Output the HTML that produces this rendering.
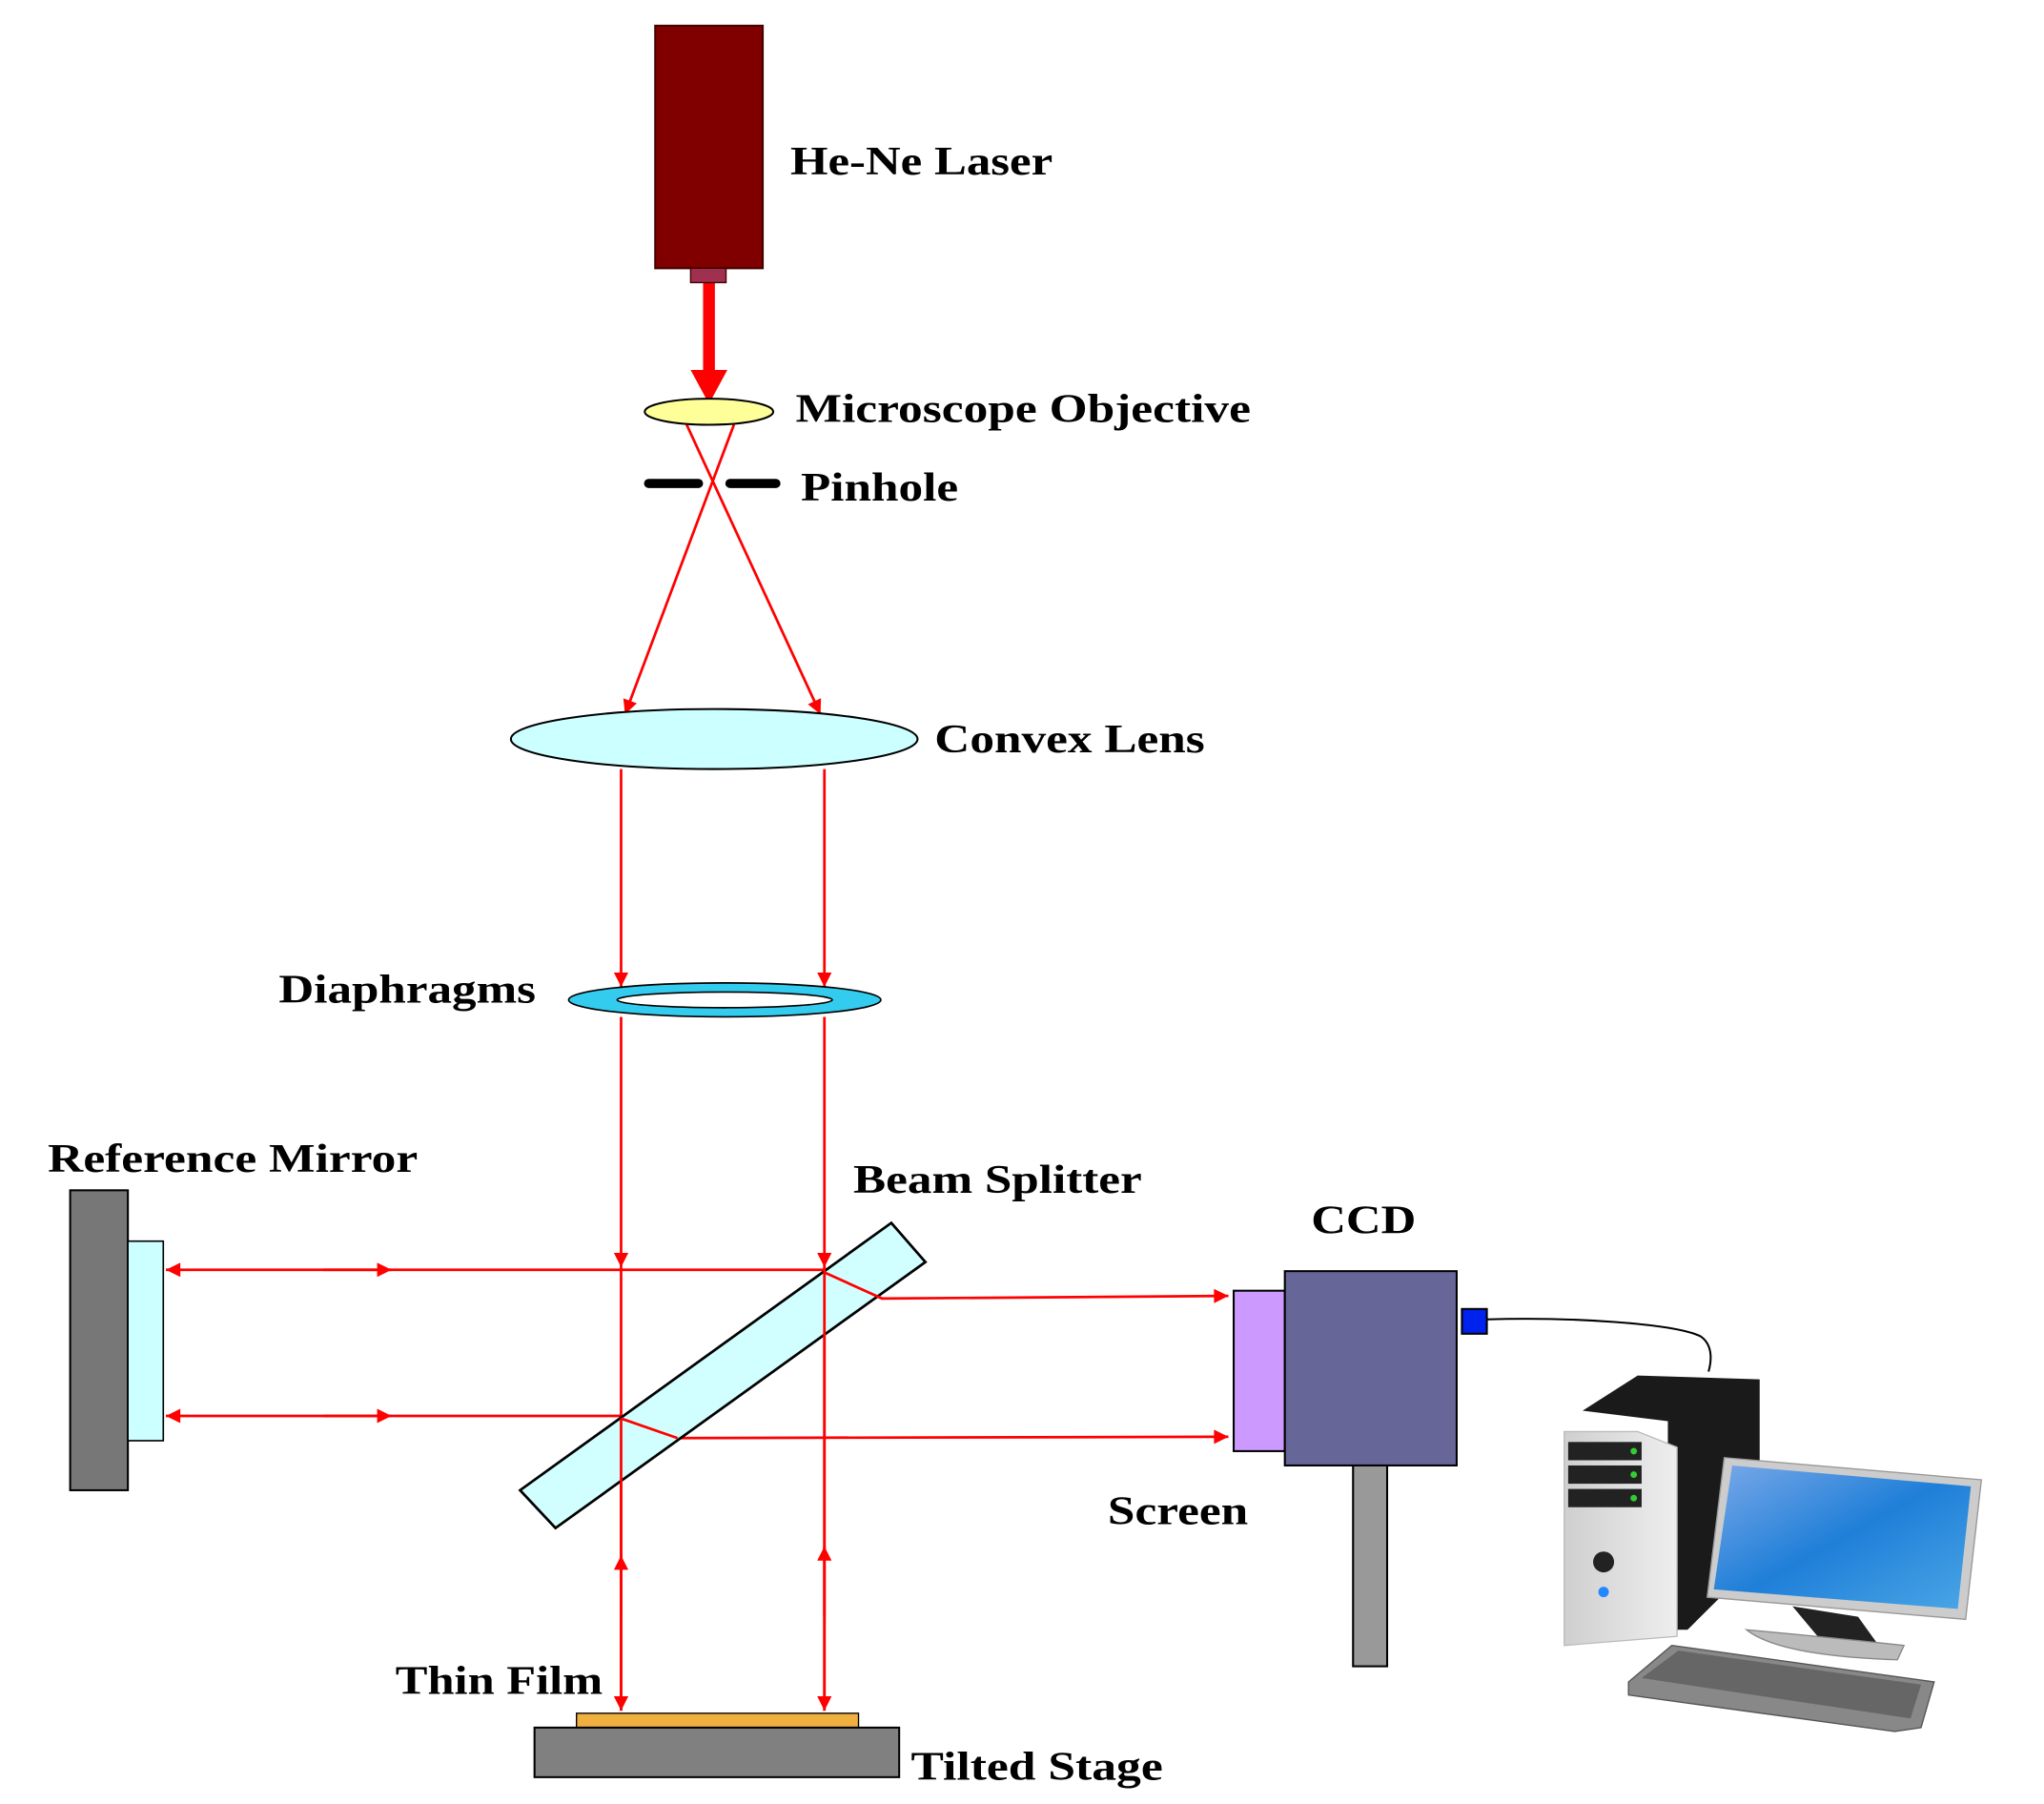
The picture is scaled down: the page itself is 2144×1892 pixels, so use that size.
<!DOCTYPE html>
<html><head><meta charset="utf-8"><style>
html,body{margin:0;padding:0;background:#fff;}
svg{display:block;}
text{font-family:"Liberation Serif",serif;font-weight:bold;font-size:31px;fill:#000;}
</style></head><body>
<svg width="2144" height="1892" viewBox="0 0 1552 1370" preserveAspectRatio="none" xmlns="http://www.w3.org/2000/svg">
<defs>
<marker id="ah" viewBox="0 0 10 10" refX="10" refY="5" markerWidth="16" markerHeight="11" markerUnits="userSpaceOnUse" orient="auto"><path d="M0,0L10,5L0,10z" fill="#f00"/></marker>
<linearGradient id="scr" x1="0" y1="0" x2="1" y2="1"><stop offset="0" stop-color="#7aa8e8"/><stop offset="0.5" stop-color="#1f7fd8"/><stop offset="1" stop-color="#4aa6e6"/></linearGradient>
<linearGradient id="tw" x1="0" y1="0" x2="1" y2="0"><stop offset="0" stop-color="#cfcfcf"/><stop offset="1" stop-color="#eee"/></linearGradient>
</defs>
<g transform="translate(-3.5,-0.3) scale(0.996,0.9904)">
<g stroke="#f00" stroke-width="2" fill="none">
<line x1="544" y1="217" x2="544" y2="290" stroke-width="9"/>
<polygon points="530,284 558,284 544,310" fill="#f00" stroke="none"/>
<line x1="527" y1="326" x2="629" y2="548" marker-end="url(#ah)"/>
<line x1="563" y1="326" x2="480" y2="548" marker-end="url(#ah)"/>
<line x1="477" y1="590" x2="477" y2="757" marker-end="url(#ah)"/>
<line x1="632" y1="590" x2="632" y2="757" marker-end="url(#ah)"/>
<line x1="477" y1="780" x2="477" y2="972" marker-end="url(#ah)"/>
<line x1="632" y1="780" x2="632" y2="972" marker-end="url(#ah)"/>
<line x1="477" y1="972" x2="477" y2="1312" marker-end="url(#ah)"/>
<line x1="632" y1="972" x2="632" y2="1312" marker-end="url(#ah)"/>
<line x1="477" y1="1240" x2="477" y2="1193" marker-end="url(#ah)"/>
<line x1="632" y1="1240" x2="632" y2="1186" marker-end="url(#ah)"/>
<line x1="632" y1="974" x2="130" y2="974" marker-end="url(#ah)"/>
<line x1="250" y1="974" x2="302" y2="974" marker-end="url(#ah)"/>
<line x1="477" y1="1086" x2="130" y2="1086" marker-end="url(#ah)"/>
<line x1="250" y1="1086" x2="302" y2="1086" marker-end="url(#ah)"/>
<polyline points="632,976 676,996 940,994" marker-end="url(#ah)"/>
<polyline points="477,1088 520,1103 940,1102" marker-end="url(#ah)"/>
</g>
<rect x="503" y="20" width="82" height="186" fill="#800000" stroke="#400" stroke-width="1.5"/>
<rect x="530" y="206" width="27" height="11" fill="#a03050" stroke="#400" stroke-width="1"/>
<ellipse cx="544" cy="316" rx="49" ry="10" fill="#ffff99" stroke="#000" stroke-width="1.5"/>
<line x1="498" y1="371" x2="536" y2="371" stroke="#000" stroke-width="7" stroke-linecap="round"/>
<line x1="560" y1="371" x2="595" y2="371" stroke="#000" stroke-width="7" stroke-linecap="round"/>
<ellipse cx="548" cy="567" rx="155" ry="23" fill="#ccffff" stroke="#000" stroke-width="1.5"/>
<ellipse cx="556" cy="767" rx="119" ry="13" fill="#33ccee" stroke="#000" stroke-width="1.2"/>
<ellipse cx="556" cy="767" rx="82" ry="6" fill="#fff" stroke="#000" stroke-width="1.2"/>
<rect x="57" y="913" width="44" height="230" fill="#777" stroke="#000" stroke-width="1.5"/>
<rect x="101" y="952" width="27" height="153" fill="#ccffff" stroke="#000" stroke-width="1.2"/>
<polygon points="400,1143 683,938 709,968 427,1172" fill="#ccffff" fill-opacity="0.9" stroke="#000" stroke-width="2"/>
<line x1="477" y1="1088" x2="477" y2="1312" stroke="#f00" stroke-width="2"/>
<line x1="632" y1="972" x2="632" y2="1312" stroke="#f00" stroke-width="2"/>
<polyline points="632,976 676,996" stroke="#f00" stroke-width="2" fill="none"/>
<polyline points="477,1088 520,1103" stroke="#f00" stroke-width="2" fill="none"/>
<rect x="944" y="990" width="39" height="123" fill="#cc99ff" stroke="#000" stroke-width="1.5"/>
<rect x="983" y="975" width="131" height="149" fill="#666699" stroke="#000" stroke-width="1.5"/>
<rect x="1035" y="1124" width="26" height="154" fill="#999" stroke="#000" stroke-width="1.5"/>
<rect x="1118" y="1004" width="19" height="19" fill="#0022ee" stroke="#000" stroke-width="1.5"/>
<path d="M1137,1012 C1200,1010 1280,1015 1300,1025 C1310,1032 1308,1045 1306,1052" stroke="#000" stroke-width="1.5" fill="none"/>
<rect x="443" y="1314" width="215" height="11" fill="#f0b040" stroke="#000" stroke-width="1"/>
<rect x="411" y="1325" width="278" height="38" fill="#808080" stroke="#000" stroke-width="1.5"/>
<polygon points="1210,1082 1252,1055 1345,1058 1345,1195 1290,1250 1275,1250 1275,1090" fill="#1a1a1a"/>
<polygon points="1196,1098 1252,1098 1282,1110 1282,1255 1196,1262" fill="url(#tw)" stroke="#bbb" stroke-width="1"/>
<rect x="1199" y="1106" width="56" height="14" fill="#222"/>
<rect x="1199" y="1124" width="56" height="14" fill="#222"/>
<rect x="1199" y="1142" width="56" height="14" fill="#222"/>
<circle cx="1249" cy="1113" r="2.5" fill="#3c3"/><circle cx="1249" cy="1131" r="2.5" fill="#3c3"/><circle cx="1249" cy="1149" r="2.5" fill="#3c3"/>
<circle cx="1226" cy="1198" r="8" fill="#222"/><circle cx="1226" cy="1221" r="4" fill="#28f"/>
<polygon points="1318,1118 1514,1135 1502,1242 1305,1225" fill="#ccc" stroke="#999"/>
<polygon points="1324,1124 1506,1140 1496,1234 1310,1219" fill="url(#scr)"/>
<polygon points="1370,1232 1420,1240 1440,1268 1395,1262" fill="#222"/>
<path d="M1335,1250 Q1360,1270 1450,1273 L1455,1262 Q1390,1255 1335,1250z" fill="#bbb" stroke="#888"/>
<polygon points="1245,1290 1278,1262 1478,1290 1468,1325 1448,1328 1245,1300" fill="#888" stroke="#555"/>
<polygon points="1255,1287 1283,1266 1468,1292 1460,1318" fill="#666"/>
<text x="606" y="134" textLength="200" lengthAdjust="spacingAndGlyphs">He-Ne Laser</text>
<text x="610" y="324" textLength="347" lengthAdjust="spacingAndGlyphs">Microscope Objective</text>
<text x="614" y="384" textLength="120" lengthAdjust="spacingAndGlyphs">Pinhole</text>
<text x="716" y="577" textLength="206" lengthAdjust="spacingAndGlyphs">Convex Lens</text>
<text x="216" y="769" textLength="196" lengthAdjust="spacingAndGlyphs">Diaphragms</text>
<text x="40" y="899" textLength="282" lengthAdjust="spacingAndGlyphs">Reference Mirror</text>
<text x="654" y="915" textLength="220" lengthAdjust="spacingAndGlyphs">Beam Splitter</text>
<text x="1003" y="946" textLength="80" lengthAdjust="spacingAndGlyphs">CCD</text>
<text x="848" y="1169" textLength="107" lengthAdjust="spacingAndGlyphs">Screen</text>
<text x="305" y="1299" textLength="158" lengthAdjust="spacingAndGlyphs">Thin Film</text>
<text x="698" y="1365" textLength="192" lengthAdjust="spacingAndGlyphs">Tilted Stage</text>
</g>
</svg>
</body></html>
